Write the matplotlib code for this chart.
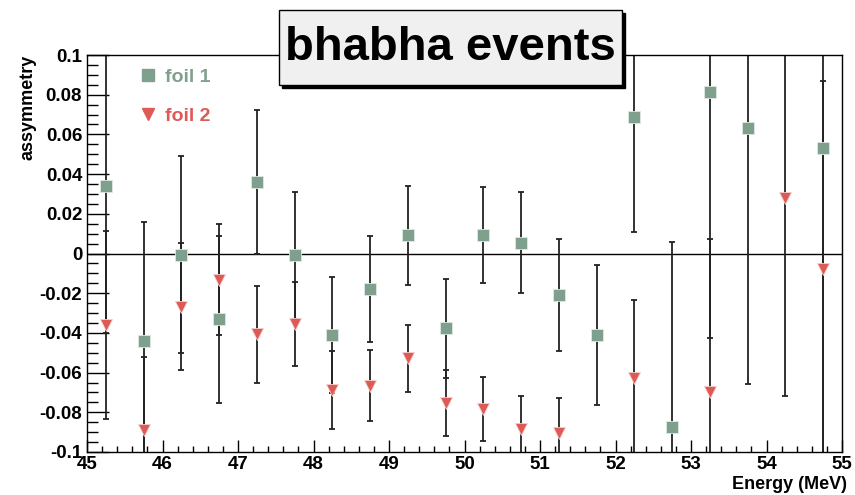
import numpy as np
import matplotlib
matplotlib.use("Agg")
import matplotlib.pyplot as plt
from matplotlib.lines import Line2D
from matplotlib.patches import Rectangle
from matplotlib.ticker import MultipleLocator

plt.rcParams["font.family"] = ["Liberation Sans", "DejaVu Sans"]
plt.rcParams["font.weight"] = "bold"

nan = np.nan

# bin centres (MeV)
energy = [45.25, 45.75, 46.25, 46.75, 47.25, 47.75, 48.25, 48.75, 49.25, 49.75,
          50.25, 50.75, 51.25, 51.75, 52.25, 52.75, 53.25, 53.75, 54.25, 54.75]

foil1 = [0.034, -0.044, -0.0006, -0.0332, 0.036, -0.0008, -0.0411, -0.018, 0.0092, -0.0377,
         0.0093, 0.0055, -0.0209, -0.0412, 0.069, -0.0876, 0.0814, 0.0632, nan, 0.053]
foil1_err = [0.074, 0.060, 0.0495, 0.042, 0.0365, 0.032, 0.0293, 0.0266, 0.025, 0.0248,
             0.0243, 0.0256, 0.028, 0.0352, 0.058, 0.0936, 0.124, 0.129, nan, 0.16]

foil2 = [-0.036, -0.089, -0.0268, -0.0133, -0.0406, -0.0355, -0.0688, -0.0666, -0.0528, -0.0755,
         -0.0785, -0.0886, -0.0906, nan, -0.0625, nan, -0.0696, nan, 0.0278, -0.008]
foil2_err = [0.0475, 0.037, 0.032, 0.028, 0.0244, 0.021, 0.0196, 0.018, 0.0168, 0.0166,
             0.0162, 0.0166, 0.018, nan, 0.039, nan, 0.077, nan, 0.0994, 0.095]

green = "#80a08e"
red = "#dd5a55"

fig = plt.figure(figsize=(8.55, 4.95), dpi=100)
ax = fig.add_axes([87 / 855, 43 / 495, 755 / 855, 397 / 495])

ax.axhline(0, color="black", lw=1.0, zorder=1)

err_style = dict(fmt="none", ecolor="#222222", elinewidth=1.3, capsize=2.4, capthick=1.3, zorder=2)
ax.errorbar(energy, foil1, yerr=foil1_err, **err_style)
ax.errorbar(energy, foil2, yerr=foil2_err, **err_style)
ax.plot(energy, foil1, ls="none", marker="s", ms=8.5, mfc=green, mec="#dfe9e3", mew=0.6, zorder=3)
ax.plot(energy, foil2, ls="none", marker="v", ms=8.5, mfc=red, mec="#f3d0ce", mew=0.6, zorder=3)

ax.set_xlim(45, 55)
ax.set_ylim(-0.1, 0.1)
ax.xaxis.set_major_locator(MultipleLocator(1))
ax.xaxis.set_minor_locator(MultipleLocator(0.2))
ax.yaxis.set_minor_locator(MultipleLocator(0.005))
ax.set_yticks(np.arange(-0.1, 0.1001, 0.02))
ax.set_yticklabels(["-0.1", "-0.08", "-0.06", "-0.04", "-0.02", "0",
                    "0.02", "0.04", "0.06", "0.08", "0.1"])
ax.tick_params(axis="x", which="major", direction="in", length=8.6, width=1.0,
               labelsize=13.5, pad=3, top=False)
ax.tick_params(axis="x", which="minor", direction="in", length=4.3, width=1.0, top=False)
ax.tick_params(axis="y", which="major", direction="in", length=16, width=1.0,
               labelsize=13.5, pad=3.5, right=False)
ax.tick_params(axis="y", which="minor", direction="in", length=8, width=1.0, right=False)
for lab in ax.get_xticklabels() + ax.get_yticklabels():
    lab.set_fontweight("bold")
for sp in ax.spines.values():
    sp.set_linewidth(1.0)

fig.text(28 / 855, 1 - 55 / 495, "assymmetry", rotation=90, ha="center", va="top",
         fontsize=13, fontweight="bold")
fig.text(847 / 855, 1 - 489 / 495, "Energy (MeV)", ha="right", va="baseline",
         fontsize=13, fontweight="bold")

# legend
handles = [Line2D([], [], ls="none", marker="s", ms=8.5, mfc=green, mec=green),
           Line2D([], [], ls="none", marker="v", ms=8.5, mfc=red, mec=red)]
leg = ax.legend(handles, ["foil 1", "foil 2"], loc="upper left",
                bbox_to_anchor=(0.047, 1.01), frameon=False, handlelength=0.8,
                handletextpad=0.5, labelspacing=1.1, prop={"size": 14, "weight": "bold"})
for txt, c in zip(leg.get_texts(), [green, red]):
    txt.set_color(c)

# title box with shadow
fig.patches.append(Rectangle((282 / 855, 1 - 88 / 495), 343 / 855, 75 / 495,
                             transform=fig.transFigure, facecolor="black",
                             edgecolor="black", zorder=5))
fig.patches.append(Rectangle((279 / 855, 1 - 85 / 495), 343 / 855, 75 / 495,
                             transform=fig.transFigure, facecolor="#f0f0f0",
                             edgecolor="black", lw=1.0, zorder=6))
fig.text(450.5 / 855, 1 - 48 / 495, "bhabha events", ha="center", va="center",
         fontsize=34, fontweight="bold", zorder=7)

fig.savefig("out.png", dpi=100)
